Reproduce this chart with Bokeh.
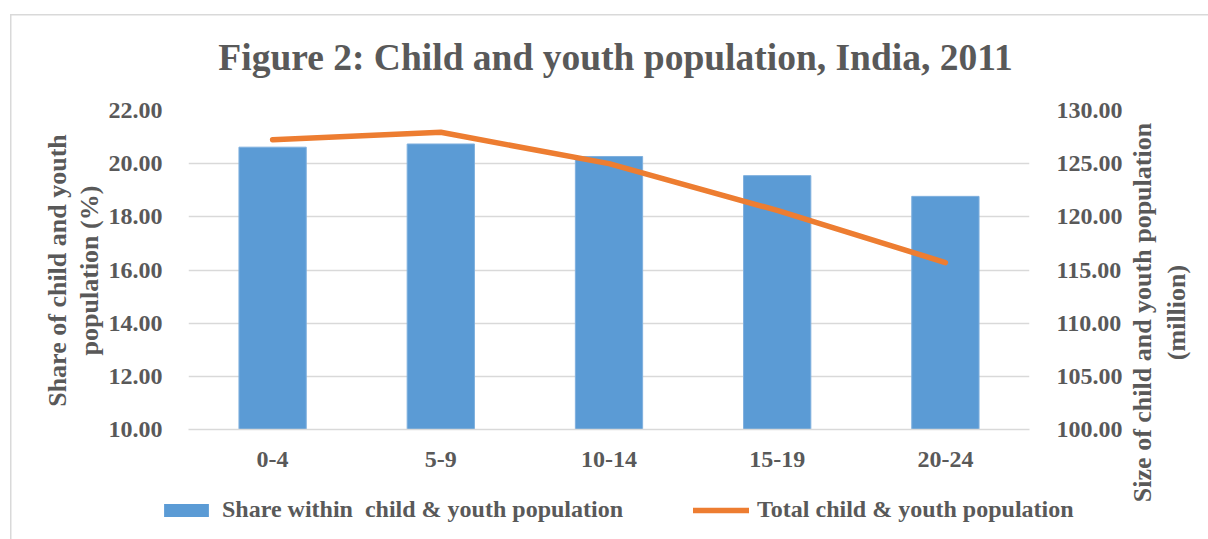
from bokeh.plotting import figure
from bokeh.models import (ColumnDataSource, Range1d, LinearAxis, FixedTicker,
                          NumeralTickFormatter, Legend, LegendItem, Label)
from bokeh.layouts import column, row
from bokeh.embed import file_html
from bokeh.resources import INLINE

# Age groups and values (India, Census 2011)
age_groups = ["0-4", "5-9", "10-14", "15-19", "20-24"]
share_pct = [20.62, 20.74, 20.27, 19.55, 18.77]          # share within child & youth population (%)
total_million = [127.25, 127.95, 125.00, 120.60, 115.70]  # total population (million)

left_ticks = [10, 12, 14, 16, 18, 20, 22]
right_ticks = [100, 105, 110, 115, 120, 125, 130]

FONT = "Liberation Serif"
GREY = "#595959"
GRID = "#d9d9d9"
BLUE = "#5b9bd5"
ORANGE = "#ed7d31"
TXT = "24px"
AXIS_TITLE = "26px"

# page layout (pixels)
PAGE_W, PAGE_H = 1208, 539
TOP_H = 90       # title strip
MID_H = 390      # chart row
BOT_H = PAGE_H - TOP_H - MID_H   # legend strip
LEFT_W = 105     # left axis title strip
RIGHT_W = 83     # right axis title strip
MAIN_W = PAGE_W - LEFT_W - RIGHT_W
MB_TOP, MB_BOTTOM = 20, 51       # chart borders above/below the plotting area
FRAME_TOP = TOP_H + MB_TOP
FRAME_BOTTOM = TOP_H + MID_H - MB_BOTTOM


def strip(w, h, y0=0, y1=None, **kw):
    """Transparent helper canvas; data units are page pixels measured from the bottom."""
    return figure(width=w, height=h, x_range=Range1d(0, w),
                  y_range=Range1d(y0, h if y1 is None else y1),
                  x_axis_type=None, y_axis_type=None,
                  output_backend="svg", toolbar_location=None,
                  outline_line_color=None, background_fill_color=None,
                  border_fill_color=None, **kw)


def text_label(txt, x, y, size, angle=0.0):
    return Label(x=x, y=y, text=txt, angle=angle, text_align="center",
                 text_baseline="middle", text_font=FONT, text_font_style="bold",
                 text_font_size=size, text_color=GREY)


# ---- main chart -------------------------------------------------------------
src = ColumnDataSource(dict(age=age_groups, share=share_pct, total=total_million))

p = figure(
    width=MAIN_W, height=MID_H,
    x_range=age_groups, y_range=Range1d(10, 22),
    output_backend="svg", toolbar_location=None,
    min_border_left=82, min_border_right=94,
    min_border_top=MB_TOP, min_border_bottom=MB_BOTTOM,
    outline_line_color=None, background_fill_color="white",
    border_fill_color="white",
)
p.extra_y_ranges = {"pop": Range1d(100, 130)}

bars = p.vbar(x="age", top="share", bottom=10, width=0.4, source=src,
              fill_color=BLUE, line_color="#7fb0de", line_width=1)
line = p.line(x="age", y="total", source=src, y_range_name="pop",
              line_color=ORANGE, line_width=5.5, line_cap="round", line_join="round")

p.xgrid.grid_line_color = None
p.ygrid.grid_line_color = GRID
p.ygrid.grid_line_width = 1.5
p.ygrid.ticker = FixedTicker(ticks=left_ticks)


def style_axis(ax):
    ax.axis_line_color = None
    ax.major_tick_line_color = None
    ax.minor_tick_line_color = None
    ax.major_label_text_font = FONT
    ax.major_label_text_font_style = "bold"
    ax.major_label_text_font_size = TXT
    ax.major_label_text_color = GREY


yl = p.yaxis[0]
style_axis(yl)
yl.ticker = FixedTicker(ticks=left_ticks)
yl.formatter = NumeralTickFormatter(format="0.00")
yl.major_label_standoff = 20

yr = LinearAxis(y_range_name="pop", ticker=FixedTicker(ticks=right_ticks),
                formatter=NumeralTickFormatter(format="0.00"))
style_axis(yr)
yr.major_label_standoff = 21
p.add_layout(yr, "right")

xa = p.xaxis[0]
style_axis(xa)
xa.axis_line_color = GRID
xa.axis_line_width = 1.5
xa.major_label_standoff = 16

# ---- title strip --------------------------------------------------------------
top = strip(PAGE_W, TOP_H, min_border=0)
top.add_layout(text_label("Figure 2: Child and youth population, India, 2011",
                          615, TOP_H - 57, "37.5px"))

# ---- axis title strips --------------------------------------------------------
# left strip shares the plotting-area rows of the chart, so its data range is
# expressed in page pixels (from the page bottom) over that same band
left = strip(LEFT_W, MID_H, PAGE_H - FRAME_BOTTOM, PAGE_H - FRAME_TOP,
             min_border_left=0, min_border_right=0,
             min_border_top=MB_TOP, min_border_bottom=MB_BOTTOM)
left.add_layout(text_label("Share of child and youth", 57, PAGE_H - 270, AXIS_TITLE, 1.5708))
left.add_layout(text_label("population (%)", 89, PAGE_H - 270, AXIS_TITLE, 1.5708))

RIGHT_H = MID_H + BOT_H
right = strip(RIGHT_W, RIGHT_H, min_border=0)
right.add_layout(text_label("Size of child and youth population", 17, PAGE_H - 312, AXIS_TITLE, 1.5708))
right.add_layout(text_label("(million)", 51, PAGE_H - 312, AXIS_TITLE, 1.5708))

# ---- legend strip -------------------------------------------------------------
bot = strip(LEFT_W + MAIN_W, BOT_H, min_border=0)
# zero-size key glyphs that carry the legend styling
key_bar = bot.vbar(x=[0], top=[0], bottom=[0], width=0, fill_color=BLUE, line_color=None)
key_line = bot.line(x=[0], y=[0], line_color=ORANGE, line_width=5.5, line_cap="round")
legend = Legend(
    items=[LegendItem(label="Share within  child & youth population", renderers=[key_bar]),
           LegendItem(label="Total child & youth population", renderers=[key_line])],
    orientation="horizontal", location=(158, 16),
    glyph_width=56, glyph_height=16, label_standoff=8, spacing=70,
    padding=0, margin=0, border_line_color=None, background_fill_alpha=0,
    label_text_font=FONT, label_text_font_style="bold", label_text_font_size=TXT,
    label_text_color=GREY,
)
bot.add_layout(legend, "center")

# light chart border along the top and left edges of the page
border_css = {
    "background-color": "white",
    "background-image": f"linear-gradient({GRID}, {GRID}), linear-gradient({GRID}, {GRID})",
    "background-size": f"{PAGE_W - 10}px 1.5px, 1.5px {PAGE_H - 14}px",
    "background-position": "10px 14px, 10px 14px",
    "background-repeat": "no-repeat",
}

layout = column(top, row(column(row(left, p), bot), right), styles=border_css)
open("out.html", "w").write(file_html(layout, INLINE))
